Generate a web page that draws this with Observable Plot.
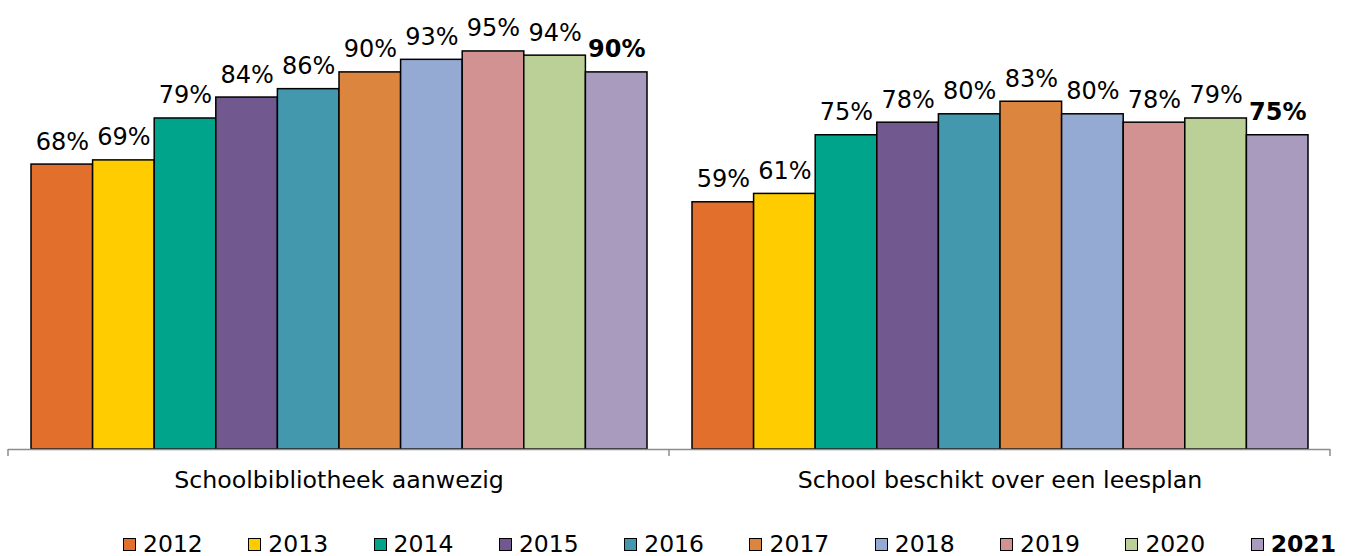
<!DOCTYPE html>
<html>
<head>
<meta charset="utf-8">
<script src="https://cdn.jsdelivr.net/npm/d3@7"></script>
<script src="https://cdn.jsdelivr.net/npm/@observablehq/plot@0.6"></script>
<style>
  body { margin: 0; background: #fff; font-family: "DejaVu Sans", Verdana, sans-serif; }
  #wrap { position: relative; width: 1354px; height: 556px; }
  #legend { position: absolute; left: 123px; top: 533px; display: flex; font-size: 23.5px; line-height: 22px; color: #000; }
  .item { width: 125.3px; display: flex; align-items: center; white-space: nowrap; }
  .sw { width: 11px; height: 11px; border: 1.5px solid #000; margin-right: 7px; flex: none; }
</style>
</head>
<body>
<div id="wrap"><div id="chart"></div><div id="legend"></div></div>
<script>
const categories = ["Schoolbibliotheek aanwezig", "School beschikt over een leesplan"];
const years = ["2012","2013","2014","2015","2016","2017","2018","2019","2020","2021"];
const bibliotheek = [68, 69, 79, 84, 86, 90, 93, 95, 94, 90];
const leesplan = [59, 61, 75, 78, 80, 83, 80, 78, 79, 75];
const colors = ["#E36F2C","#FFCC00","#00A48A","#71588F","#4398AE","#DC853E","#95AAD2","#D39292","#BBD097","#A99BBD"];
const highlightYear = "2021";

const data = [];
[bibliotheek, leesplan].forEach((vals, ci) => {
  vals.forEach((v, i) => data.push({cat: categories[ci], year: years[i], value: v}));
});

const W = 1354, H = 510, mL = 8, mR = 24, mT = 30, mB = 61;

const chart = Plot.plot({
  width: W,
  height: H,
  marginLeft: mL,
  marginRight: mR,
  marginTop: mT,
  marginBottom: mB,
  style: {fontFamily: "'DejaVu Sans', Verdana, sans-serif", fontSize: "23.7px", color: "#000", background: "#fff"},
  fx: {domain: categories, padding: 0, round: false, label: null, tickSize: 0, tickPadding: 22},
  x: {domain: years, padding: 0, round: false, insetLeft: 23, insetRight: 22, axis: null},
  y: {domain: [0, 100], axis: null},
  color: {domain: years, range: colors},
  facet: {data, x: "cat"},
  marks: [
    Plot.barY(data, {x: "year", y: "value", fill: "year", stroke: "#000", strokeWidth: 1.5}),
    Plot.ruleY([0], {stroke: "#8c8c8c", strokeWidth: 1.5}),
    Plot.text(data, {filter: d => d.year !== highlightYear, x: "year", y: "value", text: d => d.value + "%", lineAnchor: "bottom", dy: -15, fontSize: 24, fill: "#000"}),
    Plot.text(data, {filter: d => d.year === highlightYear, x: "year", y: "value", text: d => d.value + "%", lineAnchor: "bottom", dy: -15, fontSize: 24, fontWeight: "bold", fill: "#000"})
  ]
});
document.getElementById("chart").appendChild(chart);

// category boundary ticks on the baseline, from the same band layout as fx
const fxBand = d3.scaleBand().domain(categories).range([mL, W - mR]).padding(0);
const bounds = categories.map(c => fxBand(c)).concat([fxBand(categories[categories.length - 1]) + fxBand.bandwidth()]);
const y0 = H - mB;
const svg = d3.select(chart);
svg.append("g").selectAll("line").data(bounds).join("line")
  .attr("x1", d => d).attr("x2", d => d)
  .attr("y1", y0).attr("y2", y0 + 7)
  .attr("stroke", "#8c8c8c").attr("stroke-width", 1.5);

// legend
const legend = d3.select("#legend");
years.forEach((yr, i) => {
  const item = legend.append("div").attr("class", "item");
  item.append("div").attr("class", "sw").style("background", colors[i]);
  item.append("span").text(yr).style("font-weight", yr === highlightYear ? "bold" : "normal");
});
</script>
</body>
</html>
